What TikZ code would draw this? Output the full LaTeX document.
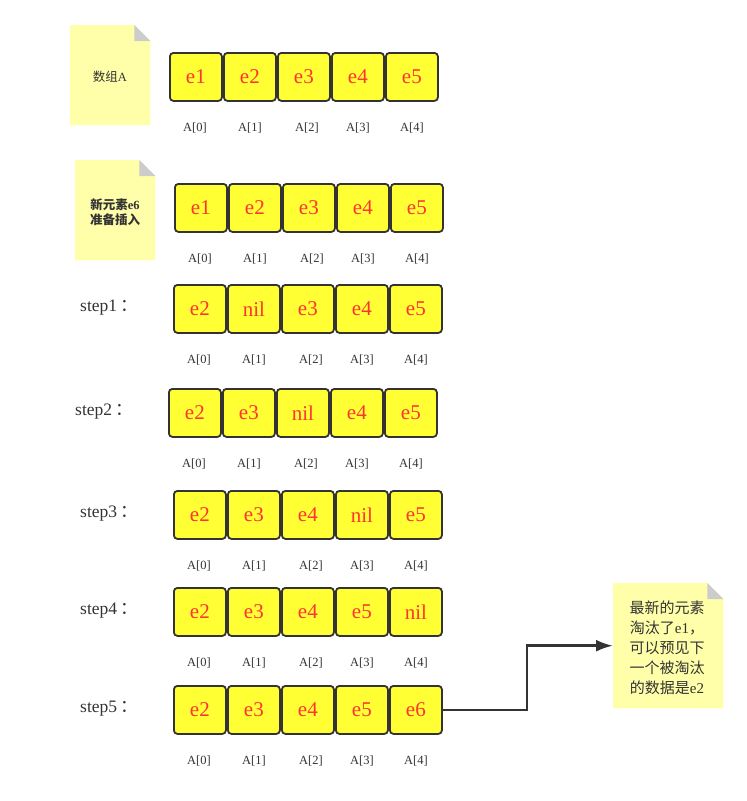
\documentclass[tikz,border=0pt]{standalone}
\usepackage{fontspec}
\setmainfont{Liberation Serif}
\newfontfamily\cjk{Noto Sans CJK SC}
\usetikzlibrary{backgrounds,arrows.meta}
\definecolor{boxfill}{RGB}{255,255,51}
\definecolor{boxdraw}{RGB}{51,51,51}
\definecolor{valred}{RGB}{255,51,51}
\definecolor{notefill}{RGB}{255,255,170}
\definecolor{foldgray}{RGB}{204,204,204}
\definecolor{txtgray}{RGB}{51,51,51}
\tikzset{
  cell/.style={draw=boxdraw, fill=boxfill, line width=1.8pt, rounded corners=3.5pt,
    minimum width=52pt, minimum height=48pt, inner sep=0pt, anchor=north west,
    text=valred, font=\fontsize{21}{21}\selectfont},
  idx/.style={text=txtgray, font=\fontsize{12.5}{13}\selectfont, inner sep=0pt},
  steplbl/.style={text=txtgray, font=\fontsize{17.5}{18}\selectfont, anchor=west, inner sep=0pt},
  notebox/.style={minimum width=#1, inner sep=0pt, anchor=north west, text=txtgray, align=center},
  arr/.style={color=boxdraw, line width=2.6pt, -{Latex[length=17pt,width=12pt]}}
}
\newcommand{\notepaint}[1]{%
  \begin{scope}[on background layer]
  \fill[notefill] (#1.north west) -- ([xshift=-16pt]#1.north east) -- ([yshift=-16pt]#1.north east) -- (#1.south east) -- (#1.south west) -- cycle;
  \fill[foldgray] ([xshift=-16pt]#1.north east) -- ([xshift=-16pt,yshift=-16pt]#1.north east) -- ([yshift=-16pt]#1.north east) -- cycle;
  \end{scope}}
\newcommand{\arrrow}[8]{% name, left, top, v0..v4
  \foreach \v [count=\i from 0] in {#4,#5,#6,#7,#8} {
    \node[cell] (#1\i) at ({#2+54*\i+1}, #3+1) {\v};
  }
  \foreach \dx [count=\i from 0] in {27,82,139,190,244} {
    \node[idx] (#1l\i) at (#2+\dx, #3+77) {A[\i]};
  }}
\begin{document}
\begin{tikzpicture}[x=1pt,y=-1pt]
\useasboundingbox (0,0) rectangle (747,801);
% note 1
\node[notebox=80pt, minimum height=100pt] (note1) at (70,25) {};
\notepaint{note1}
\node[text=txtgray, font=\fontsize{12.5}{14}\selectfont] (n1t) at (110,77) {{\cjk 数组}A};
% note 2
\node[notebox=80pt, minimum height=100pt] (note2) at (75,160) {};
\notepaint{note2}
\node[text=txtgray, font=\fontsize{12.5}{15}\selectfont\bfseries, align=center] (n2t) at (115,212) {{\cjk 新元素}e6\\{\cjk 准备插入}};
% note 3
\node[notebox=110pt, minimum height=125pt] (note3) at (613,583) {};
\notepaint{note3}
\node[text=txtgray, font=\fontsize{15}{20}\selectfont, align=center] (n3t) at (667,648) {{\cjk 最新的元素}\\{\cjk 淘汰了}e1{\cjk ，}\\{\cjk 可以预见下}\\{\cjk 一个被淘汰}\\{\cjk 的数据是}e2};
% rows
\arrrow{a}{168}{51}{e1}{e2}{e3}{e4}{e5}
\arrrow{b}{173}{182}{e1}{e2}{e3}{e4}{e5}
\arrrow{c}{172}{283}{e2}{nil}{e3}{e4}{e5}
\arrrow{d}{167}{387}{e2}{e3}{nil}{e4}{e5}
\arrrow{f}{172}{489}{e2}{e3}{e4}{nil}{e5}
\arrrow{g}{172}{586}{e2}{e3}{e4}{e5}{nil}
\arrrow{h}{172}{684}{e2}{e3}{e4}{e5}{e6}
% step labels
\node[steplbl] (s1) at (80,308) {step1\hspace{3pt}{\cjk ：}};
\node[steplbl] (s2) at (75,412) {step2\hspace{3pt}{\cjk ：}};
\node[steplbl] (s3) at (80,514) {step3\hspace{3pt}{\cjk ：}};
\node[steplbl] (s4) at (80,611) {step4\hspace{3pt}{\cjk ：}};
\node[steplbl] (s5) at (80,709) {step5\hspace{3pt}{\cjk ：}};
% arrow
\coordinate (bend) at (527,646);
\draw[arr] (h4.east) -- (h4.east -| bend) |- (note3.west);
\end{tikzpicture}
\end{document}
